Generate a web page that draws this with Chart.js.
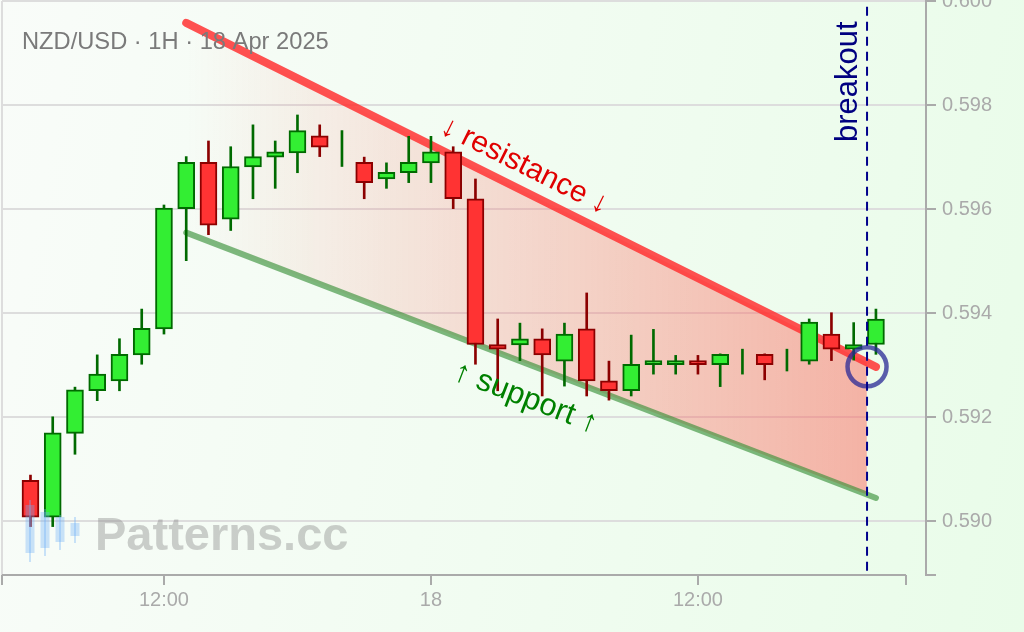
<!DOCTYPE html>
<html>
<head>
<meta charset="utf-8">
<title>NZD/USD 1H channel breakout</title>
<script src="https://cdn.jsdelivr.net/npm/chart.js@4.4.1/dist/chart.umd.min.js"></script>
<style>
  html, body { margin: 0; padding: 0; }
  body {
    width: 1024px; height: 632px; overflow: hidden;
    background: linear-gradient(100deg, #f9fcf9 0%, #f2fcf2 45%, #e9fce9 100%);
  }
  canvas { display: block; }
</style>
</head>
<body>
<canvas id="chart" width="1024" height="632"></canvas>
<script>
/* ---- DATA (hours from 17 Apr 00:00) ---- */
const hours  = [6, 7, 8, 9, 10, 11, 12, 13, 14, 15, 16, 17, 18, 19, 20, 21, 22, 23, 24, 25,
                26, 27, 28, 29, 30, 31, 32, 33, 34, 35, 36, 37, 38, 39, 40, 41, 42, 43, 44];
const opens  = [0.59079, 0.59008, 0.59169, 0.59251, 0.59270, 0.59320, 0.59370, 0.59601, 0.59690, 0.59581,
                0.59681, 0.59700, 0.59708, 0.59741, 0.59712, 0.59690, 0.59658, 0.59670, 0.59689, 0.59710,
                0.59620, 0.59340, 0.59339, 0.59351, 0.59308, 0.59370, 0.59270, 0.59251, 0.59301, 0.59301,
                0.59309, 0.59301, 0.59305, 0.59321, 0.59310, 0.59308, 0.59360, 0.59331, 0.59340];
const highs  = [0.59089, 0.59201, 0.59258, 0.59320, 0.59351, 0.59408, 0.59608, 0.59701, 0.59731, 0.59720,
                0.59762, 0.59731, 0.59781, 0.59762, 0.59751, 0.59700, 0.59689, 0.59740, 0.59740, 0.59720,
                0.59658, 0.59389, 0.59381, 0.59370, 0.59381, 0.59439, 0.59308, 0.59358, 0.59369, 0.59319,
                0.59319, 0.59322, 0.59331, 0.59322, 0.59331, 0.59389, 0.59401, 0.59382, 0.59408];
const lows   = [0.58990, 0.58990, 0.59129, 0.59232, 0.59251, 0.59302, 0.59360, 0.59501, 0.59551, 0.59559,
                0.59620, 0.59640, 0.59670, 0.59701, 0.59682, 0.59620, 0.59640, 0.59651, 0.59651, 0.59601,
                0.59302, 0.59251, 0.59309, 0.59241, 0.59260, 0.59241, 0.59233, 0.59241, 0.59283, 0.59283,
                0.59283, 0.59259, 0.59283, 0.59272, 0.59289, 0.59302, 0.59309, 0.59310, 0.59321];
const closes = [0.59008, 0.59170, 0.59253, 0.59283, 0.59321, 0.59371, 0.59602, 0.59690, 0.59569, 0.59682,
                0.59701, 0.59710, 0.59751, 0.59719, 0.59712, 0.59651, 0.59671, 0.59690, 0.59710, 0.59620,
                0.59340, 0.59331, 0.59351, 0.59320, 0.59360, 0.59270, 0.59251, 0.59302, 0.59309, 0.59309,
                0.59301, 0.59321, 0.59305, 0.59301, 0.59310, 0.59383, 0.59331, 0.59340, 0.59389];

const xTickValues = [12, 24, 36];
const xTickLabels = ['12:00', '18', '12:00'];
const yTickValues = [0.590, 0.592, 0.594, 0.596, 0.598, 0.600];
const yTickLabels = ['0.590', '0.592', '0.594', '0.596', '0.598', '0.600'];

const resistanceX = [13, 44];
const resistanceY = [0.59958, 0.59297];
const supportX    = [13, 44];
const supportY    = [0.59555, 0.59045];

const breakoutHour  = 43.6;
const breakoutPrice = 0.59297;

const xMin = 4.72, xMax = 46.25, xAxisEnd = 45.35;
const yMin = 0.58897, yMax = 0.600;

const labelRes = { x: 28.2,  y: 0.59683, text: '\u2193 resistance \u2193' };
const labelSup = { x: 28.25, y: 0.59237, text: '\u2191 support \u2191' };
const labelBreakoutY = 0.59845;

/* ---- COLOURS ---- */
const UP_FILL = '#33ee33', UP_LINE = '#006a00';
const DN_FILL = '#ff3333', DN_LINE = '#8b0000';
const FONT = "'Liberation Sans', Arial, Helvetica, sans-serif";

Chart.defaults.font.family = FONT;

/* ---- BUILD CANDLES ---- */
const bodies = [];
const wicks = [];
hours.forEach((h, i) => {
    const up = closes[i] >= opens[i];
    wicks.push({ x: h, y: [lows[i], highs[i]], up });
    if (opens[i] !== closes[i]) bodies.push({ x: h, y: [opens[i], closes[i]], up });
});

function channelGradient(context) {
    const chart = context.chart;
    const { ctx, chartArea, scales } = chart;
    if (!chartArea) return 'transparent';
    const x0 = scales.x.getPixelForValue(resistanceX[0]);
    const x1 = scales.x.getPixelForValue(breakoutHour);
    const g = ctx.createLinearGradient(x0, 0, x1, 0);
    g.addColorStop(0, 'rgba(255, 90, 80, 0)');
    g.addColorStop(0.999, 'rgba(255, 90, 80, 0.45)');
    g.addColorStop(1, 'rgba(255, 90, 80, 0)');
    return g;
}

/* ---- EXTRA DRAWING: title, labels, watermark, x axis line ---- */
const decorations = {
    id: 'decorations',
    afterDraw(chart) {
        const { ctx, chartArea, scales } = chart;
        const xs = scales.x, ys = scales.y;
        ctx.save();

        // x axis line (stops short of the y axis)
        ctx.strokeStyle = '#aaaaaa';
        ctx.lineWidth = 2;
        ctx.beginPath();
        ctx.moveTo(chartArea.left, chartArea.bottom);
        ctx.lineTo(xs.getPixelForValue(xAxisEnd), chartArea.bottom);
        ctx.stroke();

        // title
        ctx.fillStyle = '#7a7a7a';
        ctx.font = '23.7px ' + FONT;
        ctx.textAlign = 'left';
        ctx.textBaseline = 'alphabetic';
        ctx.fillText('NZD/USD \u00b7 1H \u00b7 18 Apr 2025', 22, 49);

        // watermark
        const wx = 25, wy = 500;
        ctx.fillStyle = 'rgba(110, 175, 245, 0.35)';
        [[5, 5, 53, 0, 62], [20, 12, 48, 9, 56], [35, 17, 42, 15, 50], [50, 23, 36, 17, 43]].forEach(c => {
            ctx.fillRect(wx + c[0] - 4.5, wy + c[1], 9, c[2] - c[1]);
            ctx.fillRect(wx + c[0] - 1, wy + c[3], 2, c[4] - c[3]);
        });
        ctx.fillStyle = 'rgba(128, 128, 128, 0.38)';
        ctx.font = 'bold 47px ' + FONT;
        ctx.fillText('Patterns.cc', 95, 550);

        // channel labels, rotated along their lines
        function lineLabel(lx, ly, label, color, size) {
            const a = Math.atan2(ys.getPixelForValue(ly[1]) - ys.getPixelForValue(ly[0]),
                                 xs.getPixelForValue(lx[1]) - xs.getPixelForValue(lx[0]));
            ctx.save();
            ctx.translate(xs.getPixelForValue(label.x), ys.getPixelForValue(label.y));
            ctx.rotate(a);
            ctx.fillStyle = color;
            ctx.font = size + 'px ' + FONT;
            ctx.textAlign = 'center';
            ctx.textBaseline = 'middle';
            ctx.fillText(label.text, 0, 0);
            ctx.restore();
        }
        lineLabel(resistanceX, resistanceY, labelRes, '#e00000', 30);
        lineLabel(supportX, supportY, labelSup, '#008000', 31);

        // breakout label
        ctx.save();
        ctx.translate(xs.getPixelForValue(breakoutHour) - 10, ys.getPixelForValue(labelBreakoutY));
        ctx.rotate(-Math.PI / 2);
        ctx.fillStyle = '#000080';
        ctx.font = '31px ' + FONT;
        ctx.textAlign = 'center';
        ctx.textBaseline = 'alphabetic';
        ctx.fillText('breakout', 0, 0);
        ctx.restore();

        ctx.restore();
    }
};

/* ---- CHART ---- */
new Chart(document.getElementById('chart'), {
    type: 'bar',
    data: {
        datasets: [
            {
                type: 'line',
                data: [{ x: breakoutHour, y: 0.58905 }, { x: breakoutHour, y: yMax }],
                borderColor: '#00008b',
                borderWidth: 2,
                borderDash: [9, 6],
                pointRadius: 0,
                fill: false,
                order: 0
            },
            {
                type: 'line',
                data: [{ x: breakoutHour, y: breakoutPrice }],
                showLine: false,
                pointRadius: 19.5,
                pointBorderWidth: 4.5,
                pointBorderColor: 'rgba(40, 40, 150, 0.75)',
                pointBackgroundColor: 'rgba(0, 0, 0, 0)',
                order: 1
            },
            {
                data: bodies,
                backgroundColor: c => (c.raw && c.raw.up ? UP_FILL : DN_FILL),
                borderColor: c => (c.raw && c.raw.up ? UP_LINE : DN_LINE),
                borderWidth: 2,
                borderSkipped: false,
                barThickness: 17,
                grouped: false,
                order: 2
            },
            {
                data: wicks,
                backgroundColor: c => (c.raw && c.raw.up ? UP_LINE : DN_LINE),
                borderWidth: 0,
                barThickness: 2,
                grouped: false,
                order: 3
            },
            {
                type: 'line',
                data: resistanceX.map((x, i) => ({ x, y: resistanceY[i] })),
                borderColor: 'rgba(255, 50, 50, 0.85)',
                borderWidth: 8,
                borderCapStyle: 'round',
                pointRadius: 0,
                fill: { target: 5 },
                backgroundColor: channelGradient,
                order: 4
            },
            {
                type: 'line',
                data: supportX.map((x, i) => ({ x, y: supportY[i] })),
                borderColor: 'rgba(50, 140, 50, 0.62)',
                borderWidth: 6,
                borderCapStyle: 'round',
                pointRadius: 0,
                fill: false,
                order: 5
            }
        ]
    },
    options: {
        responsive: false,
        animation: false,
        layout: { autoPadding: false, padding: { left: 2, top: 1, right: 0, bottom: 0 } },
        plugins: {
            legend: { display: false },
            tooltip: { enabled: false },
            filler: { drawTime: 'beforeDatasetsDraw' }
        },
        scales: {
            x: {
                type: 'linear',
                min: xMin,
                max: xMax,
                offset: false,
                afterBuildTicks: s => {
                    s.ticks = [xMin, ...xTickValues, xAxisEnd].map(v => ({ value: v }));
                },
                afterFit: s => { s.height = 57; s.paddingLeft = 0; s.paddingRight = 0; },
                grid: {
                    offset: false,
                    drawOnChartArea: true,
                    color: c => (c.tick && c.tick.value === xMin ? '#dddddd' : 'rgba(0,0,0,0)'),
                    lineWidth: 2,
                    tickColor: '#aaaaaa',
                    tickLength: 10
                },
                border: { display: false },
                ticks: {
                    autoSkip: false,
                    maxRotation: 0,
                    padding: 3,
                    color: '#aaaaaa',
                    font: { size: 20 },
                    callback: v => {
                        const i = xTickValues.indexOf(v);
                        return i >= 0 ? xTickLabels[i] : '';
                    }
                }
            },
            y: {
                type: 'linear',
                position: 'right',
                min: yMin,
                max: yMax,
                beginAtZero: false,
                afterBuildTicks: s => {
                    s.ticks = [yMin, ...yTickValues].map(v => ({ value: v }));
                },
                afterFit: s => { s.width = 98; s.paddingTop = 0; s.paddingBottom = 0; },
                grid: {
                    color: c => (c.tick && c.tick.value === yMin ? 'rgba(0,0,0,0)' : '#dddddd'),
                    lineWidth: 2,
                    tickColor: '#aaaaaa',
                    tickLength: 10
                },
                border: { display: true, color: '#aaaaaa', width: 2 },
                ticks: {
                    autoSkip: false,
                    padding: 6,
                    color: '#aaaaaa',
                    font: { size: 20 },
                    callback: v => {
                        const i = yTickValues.indexOf(v);
                        return i >= 0 ? yTickLabels[i] : '';
                    }
                }
            }
        }
    },
    plugins: [decorations]
});
</script>
</body>
</html>
